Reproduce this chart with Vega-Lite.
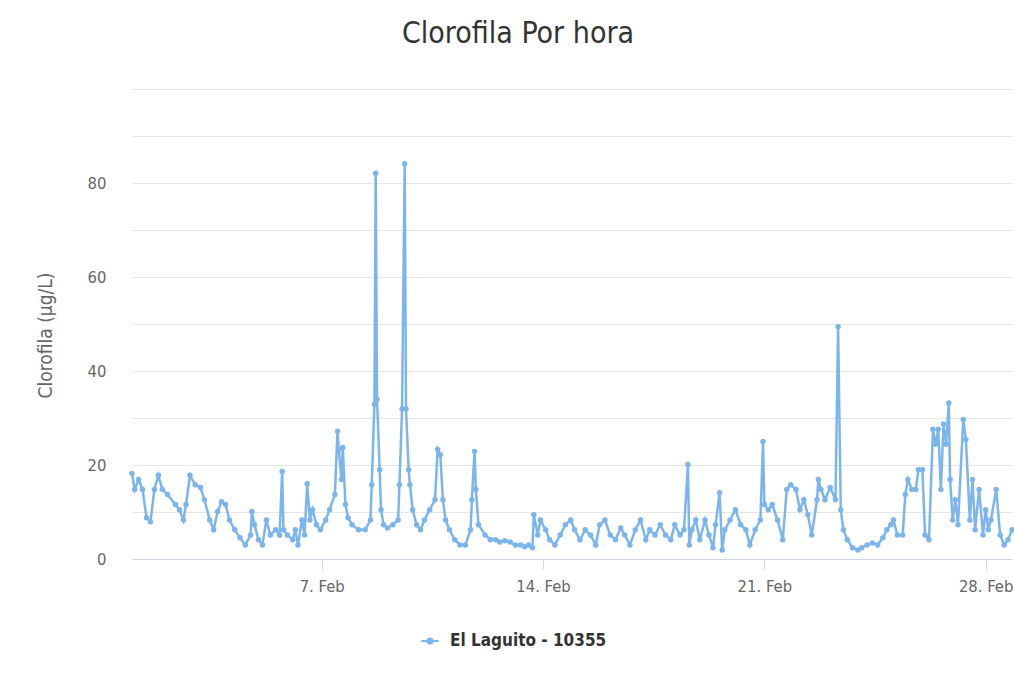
{
  "$schema": "https://vega.github.io/schema/vega-lite/v6.json",
  "width": 880,
  "height": 470,
  "autosize": {"type": "none"},
  "padding": {"left": 132, "top": 89, "right": 2, "bottom": 124},
  "background": "#ffffff",
  "title": {
    "text": "Clorofila Por hora",
    "fontSize": 30,
    "font": "DejaVu Sans Condensed, Liberation Sans Narrow, sans-serif",
    "fontWeight": "normal",
    "color": "#333333",
    "anchor": "middle",
    "dx": -54,
    "offset": 40
  },
  "data": {
    "values": [
      {"t": "2019-02-01T00:00", "v": 18.2},
      {"t": "2019-02-01T02:00", "v": 14.8},
      {"t": "2019-02-01T05:00", "v": 16.9},
      {"t": "2019-02-01T08:00", "v": 14.8},
      {"t": "2019-02-01T11:00", "v": 8.8},
      {"t": "2019-02-01T14:00", "v": 7.9},
      {"t": "2019-02-01T17:00", "v": 14.8},
      {"t": "2019-02-01T20:00", "v": 17.8},
      {"t": "2019-02-01T23:00", "v": 14.8},
      {"t": "2019-02-02T03:00", "v": 13.7},
      {"t": "2019-02-02T09:00", "v": 11.6},
      {"t": "2019-02-02T12:00", "v": 10.5},
      {"t": "2019-02-02T15:00", "v": 8.3},
      {"t": "2019-02-02T17:00", "v": 11.6},
      {"t": "2019-02-02T20:00", "v": 17.8},
      {"t": "2019-02-03T00:00", "v": 15.8},
      {"t": "2019-02-03T04:00", "v": 15.2},
      {"t": "2019-02-03T07:00", "v": 12.6},
      {"t": "2019-02-03T11:00", "v": 8.3},
      {"t": "2019-02-03T14:00", "v": 6.2},
      {"t": "2019-02-03T17:00", "v": 10.1},
      {"t": "2019-02-03T20:00", "v": 12.2},
      {"t": "2019-02-03T23:00", "v": 11.6},
      {"t": "2019-02-04T02:00", "v": 8.3},
      {"t": "2019-02-04T06:00", "v": 6.2},
      {"t": "2019-02-04T10:00", "v": 4.5},
      {"t": "2019-02-04T14:00", "v": 3.0},
      {"t": "2019-02-04T18:00", "v": 5.1},
      {"t": "2019-02-04T19:00", "v": 10.1},
      {"t": "2019-02-04T21:00", "v": 7.3},
      {"t": "2019-02-05T00:00", "v": 4.1},
      {"t": "2019-02-05T03:00", "v": 3.0},
      {"t": "2019-02-05T06:00", "v": 8.3},
      {"t": "2019-02-05T09:00", "v": 5.1},
      {"t": "2019-02-05T13:00", "v": 6.2},
      {"t": "2019-02-05T16:00", "v": 5.1},
      {"t": "2019-02-05T18:00", "v": 18.6},
      {"t": "2019-02-05T19:00", "v": 6.2},
      {"t": "2019-02-05T22:00", "v": 5.1},
      {"t": "2019-02-06T02:00", "v": 4.1},
      {"t": "2019-02-06T04:00", "v": 6.2},
      {"t": "2019-02-06T06:00", "v": 3.0},
      {"t": "2019-02-06T09:00", "v": 8.3},
      {"t": "2019-02-06T11:00", "v": 5.1},
      {"t": "2019-02-06T13:00", "v": 16.0},
      {"t": "2019-02-06T15:00", "v": 8.3},
      {"t": "2019-02-06T17:00", "v": 10.5},
      {"t": "2019-02-06T20:00", "v": 7.3},
      {"t": "2019-02-06T23:00", "v": 6.2},
      {"t": "2019-02-07T03:00", "v": 8.3},
      {"t": "2019-02-07T06:00", "v": 10.5},
      {"t": "2019-02-07T10:00", "v": 13.7},
      {"t": "2019-02-07T12:00", "v": 27.2},
      {"t": "2019-02-07T13:00", "v": 23.3},
      {"t": "2019-02-07T15:00", "v": 16.9},
      {"t": "2019-02-07T16:00", "v": 23.7},
      {"t": "2019-02-07T18:00", "v": 11.6},
      {"t": "2019-02-07T20:00", "v": 8.8},
      {"t": "2019-02-07T23:00", "v": 7.3},
      {"t": "2019-02-08T04:00", "v": 6.2},
      {"t": "2019-02-08T09:00", "v": 6.2},
      {"t": "2019-02-08T13:00", "v": 8.3},
      {"t": "2019-02-08T14:00", "v": 15.8},
      {"t": "2019-02-08T16:00", "v": 32.9},
      {"t": "2019-02-08T17:00", "v": 82.1},
      {"t": "2019-02-08T18:00", "v": 34.0},
      {"t": "2019-02-08T20:00", "v": 19.0},
      {"t": "2019-02-08T21:00", "v": 10.5},
      {"t": "2019-02-08T23:00", "v": 7.3},
      {"t": "2019-02-09T02:00", "v": 6.6},
      {"t": "2019-02-09T06:00", "v": 7.3},
      {"t": "2019-02-09T10:00", "v": 8.3},
      {"t": "2019-02-09T11:00", "v": 15.8},
      {"t": "2019-02-09T13:00", "v": 31.9},
      {"t": "2019-02-09T15:00", "v": 84.1},
      {"t": "2019-02-09T16:00", "v": 31.9},
      {"t": "2019-02-09T18:00", "v": 19.0},
      {"t": "2019-02-09T19:00", "v": 15.8},
      {"t": "2019-02-09T21:00", "v": 10.5},
      {"t": "2019-02-10T00:00", "v": 7.3},
      {"t": "2019-02-10T03:00", "v": 6.2},
      {"t": "2019-02-10T06:00", "v": 8.3},
      {"t": "2019-02-10T10:00", "v": 10.5},
      {"t": "2019-02-10T14:00", "v": 12.6},
      {"t": "2019-02-10T16:00", "v": 23.3},
      {"t": "2019-02-10T18:00", "v": 22.2},
      {"t": "2019-02-10T20:00", "v": 12.6},
      {"t": "2019-02-10T22:00", "v": 8.3},
      {"t": "2019-02-11T01:00", "v": 6.2},
      {"t": "2019-02-11T05:00", "v": 4.1},
      {"t": "2019-02-11T09:00", "v": 3.0},
      {"t": "2019-02-11T13:00", "v": 3.0},
      {"t": "2019-02-11T17:00", "v": 6.2},
      {"t": "2019-02-11T18:00", "v": 12.6},
      {"t": "2019-02-11T20:00", "v": 22.9},
      {"t": "2019-02-11T21:00", "v": 14.8},
      {"t": "2019-02-11T23:00", "v": 7.3},
      {"t": "2019-02-12T04:00", "v": 5.1},
      {"t": "2019-02-12T08:00", "v": 4.1},
      {"t": "2019-02-12T12:00", "v": 4.1},
      {"t": "2019-02-12T15:00", "v": 3.6},
      {"t": "2019-02-12T19:00", "v": 3.9},
      {"t": "2019-02-12T23:00", "v": 3.6},
      {"t": "2019-02-13T03:00", "v": 3.0},
      {"t": "2019-02-13T07:00", "v": 3.0},
      {"t": "2019-02-13T10:00", "v": 2.6},
      {"t": "2019-02-13T13:00", "v": 3.0},
      {"t": "2019-02-13T16:00", "v": 2.4},
      {"t": "2019-02-13T17:00", "v": 9.4},
      {"t": "2019-02-13T20:00", "v": 5.1},
      {"t": "2019-02-13T22:00", "v": 8.3},
      {"t": "2019-02-14T02:00", "v": 6.2},
      {"t": "2019-02-14T05:00", "v": 4.1},
      {"t": "2019-02-14T09:00", "v": 3.0},
      {"t": "2019-02-14T13:00", "v": 5.1},
      {"t": "2019-02-14T17:00", "v": 7.3},
      {"t": "2019-02-14T21:00", "v": 8.3},
      {"t": "2019-02-15T00:00", "v": 6.2},
      {"t": "2019-02-15T04:00", "v": 4.1},
      {"t": "2019-02-15T08:00", "v": 6.2},
      {"t": "2019-02-15T12:00", "v": 5.1},
      {"t": "2019-02-15T16:00", "v": 3.0},
      {"t": "2019-02-15T19:00", "v": 7.3},
      {"t": "2019-02-15T23:00", "v": 8.3},
      {"t": "2019-02-16T03:00", "v": 5.1},
      {"t": "2019-02-16T07:00", "v": 4.1},
      {"t": "2019-02-16T11:00", "v": 6.6},
      {"t": "2019-02-16T14:00", "v": 5.1},
      {"t": "2019-02-16T18:00", "v": 3.0},
      {"t": "2019-02-16T22:00", "v": 6.2},
      {"t": "2019-02-17T02:00", "v": 8.3},
      {"t": "2019-02-17T06:00", "v": 4.1},
      {"t": "2019-02-17T09:00", "v": 6.2},
      {"t": "2019-02-17T13:00", "v": 5.1},
      {"t": "2019-02-17T17:00", "v": 7.3},
      {"t": "2019-02-17T21:00", "v": 5.1},
      {"t": "2019-02-18T01:00", "v": 4.1},
      {"t": "2019-02-18T04:00", "v": 7.3},
      {"t": "2019-02-18T08:00", "v": 5.1},
      {"t": "2019-02-18T11:00", "v": 6.2},
      {"t": "2019-02-18T14:00", "v": 20.1},
      {"t": "2019-02-18T15:00", "v": 3.0},
      {"t": "2019-02-18T17:00", "v": 6.2},
      {"t": "2019-02-18T20:00", "v": 8.3},
      {"t": "2019-02-18T23:00", "v": 4.1},
      {"t": "2019-02-19T03:00", "v": 8.3},
      {"t": "2019-02-19T06:00", "v": 5.1},
      {"t": "2019-02-19T09:00", "v": 2.4},
      {"t": "2019-02-19T11:00", "v": 7.3},
      {"t": "2019-02-19T14:00", "v": 14.1},
      {"t": "2019-02-19T16:00", "v": 1.9},
      {"t": "2019-02-19T18:00", "v": 6.2},
      {"t": "2019-02-19T22:00", "v": 8.3},
      {"t": "2019-02-20T02:00", "v": 10.5},
      {"t": "2019-02-20T06:00", "v": 7.3},
      {"t": "2019-02-20T10:00", "v": 6.2},
      {"t": "2019-02-20T13:00", "v": 3.0},
      {"t": "2019-02-20T17:00", "v": 6.2},
      {"t": "2019-02-20T21:00", "v": 8.3},
      {"t": "2019-02-20T23:00", "v": 25.0},
      {"t": "2019-02-21T00:00", "v": 11.6},
      {"t": "2019-02-21T03:00", "v": 10.5},
      {"t": "2019-02-21T06:00", "v": 11.6},
      {"t": "2019-02-21T10:00", "v": 8.3},
      {"t": "2019-02-21T14:00", "v": 4.1},
      {"t": "2019-02-21T17:00", "v": 14.8},
      {"t": "2019-02-21T20:00", "v": 15.8},
      {"t": "2019-02-22T00:00", "v": 14.8},
      {"t": "2019-02-22T03:00", "v": 10.5},
      {"t": "2019-02-22T06:00", "v": 12.6},
      {"t": "2019-02-22T09:00", "v": 9.4},
      {"t": "2019-02-22T12:00", "v": 5.1},
      {"t": "2019-02-22T16:00", "v": 12.6},
      {"t": "2019-02-22T17:00", "v": 16.9},
      {"t": "2019-02-22T19:00", "v": 14.8},
      {"t": "2019-02-22T22:00", "v": 12.6},
      {"t": "2019-02-23T02:00", "v": 15.2},
      {"t": "2019-02-23T06:00", "v": 12.6},
      {"t": "2019-02-23T08:00", "v": 49.4},
      {"t": "2019-02-23T10:00", "v": 10.5},
      {"t": "2019-02-23T12:00", "v": 6.2},
      {"t": "2019-02-23T15:00", "v": 4.1},
      {"t": "2019-02-23T19:00", "v": 2.4},
      {"t": "2019-02-23T23:00", "v": 1.9},
      {"t": "2019-02-24T02:00", "v": 2.4},
      {"t": "2019-02-24T06:00", "v": 3.0},
      {"t": "2019-02-24T10:00", "v": 3.4},
      {"t": "2019-02-24T14:00", "v": 3.0},
      {"t": "2019-02-24T18:00", "v": 4.5},
      {"t": "2019-02-24T21:00", "v": 6.2},
      {"t": "2019-02-25T00:00", "v": 7.3},
      {"t": "2019-02-25T02:00", "v": 8.3},
      {"t": "2019-02-25T05:00", "v": 5.1},
      {"t": "2019-02-25T09:00", "v": 5.1},
      {"t": "2019-02-25T11:00", "v": 13.7},
      {"t": "2019-02-25T13:00", "v": 16.9},
      {"t": "2019-02-25T16:00", "v": 14.8},
      {"t": "2019-02-25T19:00", "v": 14.8},
      {"t": "2019-02-25T21:00", "v": 19.0},
      {"t": "2019-02-26T00:00", "v": 19.0},
      {"t": "2019-02-26T02:00", "v": 5.1},
      {"t": "2019-02-26T05:00", "v": 4.1},
      {"t": "2019-02-26T08:00", "v": 27.6},
      {"t": "2019-02-26T10:00", "v": 24.4},
      {"t": "2019-02-26T12:00", "v": 27.6},
      {"t": "2019-02-26T14:00", "v": 14.8},
      {"t": "2019-02-26T16:00", "v": 28.7},
      {"t": "2019-02-26T18:00", "v": 24.4},
      {"t": "2019-02-26T20:00", "v": 33.2},
      {"t": "2019-02-26T21:00", "v": 16.9},
      {"t": "2019-02-26T23:00", "v": 8.3},
      {"t": "2019-02-27T01:00", "v": 12.6},
      {"t": "2019-02-27T03:00", "v": 7.3},
      {"t": "2019-02-27T07:00", "v": 29.7},
      {"t": "2019-02-27T09:00", "v": 25.4},
      {"t": "2019-02-27T12:00", "v": 8.3},
      {"t": "2019-02-27T14:00", "v": 16.9},
      {"t": "2019-02-27T16:00", "v": 6.2},
      {"t": "2019-02-27T19:00", "v": 14.8},
      {"t": "2019-02-27T22:00", "v": 5.1},
      {"t": "2019-02-28T00:00", "v": 10.5},
      {"t": "2019-02-28T02:00", "v": 6.2},
      {"t": "2019-02-28T04:00", "v": 8.3},
      {"t": "2019-02-28T08:00", "v": 14.8},
      {"t": "2019-02-28T11:00", "v": 5.1},
      {"t": "2019-02-28T14:00", "v": 3.0},
      {"t": "2019-02-28T17:00", "v": 4.1},
      {"t": "2019-02-28T20:00", "v": 6.2}
    ]
  },
  "mark": {
    "type": "line",
    "strokeWidth": 2.5,
    "point": {"filled": true, "size": 30}
  },
  "encoding": {
    "x": {
      "field": "t",
      "type": "temporal",
      "scale": {"nice": false},
      "axis": {
        "title": null,
        "values": ["2019-02-07T00:00", "2019-02-14T00:00", "2019-02-21T00:00", "2019-02-28T00:00"],
        "format": "%-d. %b",
        "grid": false,
        "domainColor": "#ccd6eb",
        "tickColor": "#ccd6eb",
        "tickSize": 10,
        "labelPadding": 9,
        "labelColor": "#666666",
        "labelFontSize": 16.5,
        "labelFont": "DejaVu Sans Condensed, Liberation Sans Narrow, sans-serif"
      }
    },
    "y": {
      "field": "v",
      "type": "quantitative",
      "scale": {"domain": [0, 100], "nice": false},
      "axis": {
        "title": "Clorofila (µg/L)",
        "titleColor": "#666666",
        "titleFontSize": 19,
        "titleFontWeight": "normal",
        "titleFont": "DejaVu Sans Condensed, Liberation Sans Narrow, sans-serif",
        "titleX": -87,
        "titleY": 246,
        "titleAngle": -90,
        "titleAlign": "center",
        "titleBaseline": "middle",
        "values": [0, 10, 20, 30, 40, 50, 60, 70, 80, 90, 100],
        "labelExpr": "datum.value % 20 == 0 && datum.value < 100 ? datum.label : ''",
        "gridColor": "#e6e6e6",
        "domain": false,
        "ticks": false,
        "labelPadding": 26,
        "labelColor": "#666666",
        "labelFontSize": 16.5,
        "labelFont": "DejaVu Sans Condensed, Liberation Sans Narrow, sans-serif"
      }
    },
    "color": {
      "datum": "El Laguito - 10355",
      "type": "nominal",
      "scale": {"range": ["#7cb5ec"]},
      "legend": {
        "title": null,
        "orient": "none",
        "legendX": 288,
        "legendY": 542,
        "symbolType": "M-1,0H1M-0.3,0A0.3,0.3 0 1,0 0.3,0A0.3,0.3 0 1,0 -0.3,0",
        "symbolSize": 300,
        "symbolStrokeWidth": 2,
        "symbolFillColor": "#7cb5ec",
        "symbolStrokeColor": "#7cb5ec",
        "labelFontSize": 17,
        "labelFontWeight": "bold",
        "labelColor": "#333333",
        "labelOffset": 10,
        "labelFont": "DejaVu Sans Condensed, Liberation Sans Narrow, sans-serif"
      }
    }
  },
  "config": {
    "view": {"stroke": null}
  }
}
